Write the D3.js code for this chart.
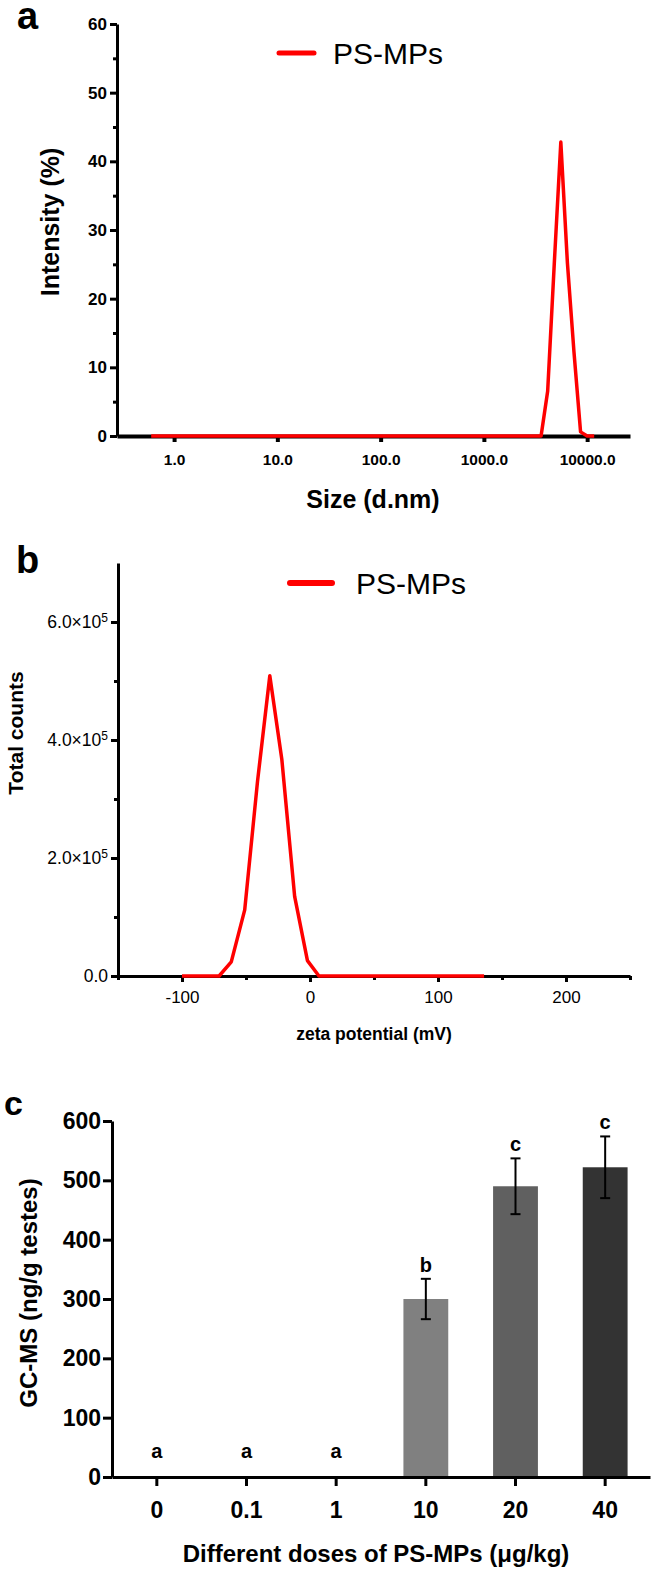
<!DOCTYPE html>
<html>
<head>
<meta charset="utf-8">
<script src="https://cdn.jsdelivr.net/npm/d3@7"></script>
<style>
  body { margin: 0; background: #fff; }
  svg { display: block; font-family: "Liberation Sans", Arial, sans-serif; }
  .ax path, .ax line { stroke: #000; }
</style>
</head>
<body>
<svg id="fig" width="654" height="1575"></svg>
<script>
// ---- panel a : size distribution (DLS) ----
var sizeNm = [0.6, 3090, 3580, 4145, 4801, 5560, 6439, 7456, 8635, 10000, 11700];
var sizeIntensity = [0, 0, 0, 6.5, 25, 42.8, 25.2, 12.2, 0.6, 0, 0];
var sizeTicks = [1, 10, 100, 1000, 10000];
var intensityTicks = [0, 10, 20, 30, 40, 50, 60];

// ---- panel b : zeta potential ----
var zetaMv = [-100, -71, -61.5, -51, -41, -31.4, -22, -12, -2, 7, 136];
var zetaCounts = [0, 0, 24000, 112000, 330000, 509000, 367000, 135000, 26000, 0, 0];
var zetaTicks = [-100, 0, 100, 200];
var countTicks = [0, 200000, 400000, 600000];

// ---- panel c : GC-MS ----
var doses = ["0", "0.1", "1", "10", "20", "40"];
var gcms = [0, 0, 0, 300, 490, 522];
var gcmsErr = [0, 0, 0, 34, 47, 52];
var sigLetters = ["a", "a", "a", "b", "c", "c"];
var gcmsTicks = [0, 100, 200, 300, 400, 500, 600];

var svg = d3.select("#fig");
var red = "#ff0000";

function styleAxis(g, w) {
  g.attr("class", "ax");
  g.select(".domain").attr("stroke-width", w);
  g.selectAll(".tick line").attr("stroke-width", w);
}

// =================== panel a ===================
var xA = d3.scaleLog().domain([0.28, 26000]).range([117, 630]);
var yA = d3.scaleLinear().domain([0, 60]).range([436, 24]);

svg.append("text").attr("x", 17).attr("y", 29)
  .attr("font-size", 38).attr("font-weight", "bold").text("a");

var gA = svg.append("g");
gA.append("g").attr("transform", "translate(117,0)")
  .call(d3.axisLeft(yA).tickValues(d3.range(5, 60, 10)).tickSize(4).tickFormat(""))
  .call(function(g) { g.select(".domain").remove(); styleAxis(g, 3); });
gA.append("g").attr("transform", "translate(117,0)")
  .call(d3.axisLeft(yA).tickValues(intensityTicks).tickSize(7).tickPadding(3).tickSizeOuter(0))
  .call(function(g) { styleAxis(g, 3); })
  .selectAll("text").attr("font-size", 17).attr("font-weight", "bold").attr("fill", "#000")
  .attr("font-family", "Liberation Sans, Arial, sans-serif");
gA.append("g").attr("transform", "translate(0,436)")
  .call(d3.axisBottom(xA).tickValues(sizeTicks).tickFormat(d3.format(".1f")).tickSize(6).tickPadding(12).tickSizeOuter(0))
  .call(function(g) { styleAxis(g, 4); })
  .selectAll("text").attr("font-size", 15.5).attr("font-weight", "bold").attr("fill", "#000")
  .attr("font-family", "Liberation Sans, Arial, sans-serif");

var lineA = d3.line().x(function(d, i) { return xA(sizeNm[i]); }).y(function(d) { return yA(d); });
gA.append("path").datum(sizeIntensity).attr("d", lineA)
  .attr("fill", "none").attr("stroke", red).attr("stroke-width", 3.5).attr("stroke-linejoin", "round");

gA.append("text").attr("transform", "translate(59,222) rotate(-90)")
  .attr("text-anchor", "middle").attr("font-size", 25).attr("font-weight", "bold").text("Intensity (%)");
gA.append("text").attr("x", 373).attr("y", 508)
  .attr("text-anchor", "middle").attr("font-size", 25).attr("font-weight", "bold").text("Size (d.nm)");

gA.append("line").attr("x1", 279).attr("x2", 314).attr("y1", 53).attr("y2", 53)
  .attr("stroke", red).attr("stroke-width", 5).attr("stroke-linecap", "round");
gA.append("text").attr("x", 333).attr("y", 64).attr("font-size", 30).text("PS-MPs");

// =================== panel b ===================
var xB = d3.scaleLinear().domain([-150, 250]).range([118, 630]);
var yB = d3.scaleLinear().domain([0, 700000]).range([976, 563]);

svg.append("text").attr("x", 16).attr("y", 573)
  .attr("font-size", 38).attr("font-weight", "bold").text("b");

var gB = svg.append("g");
gB.append("g").attr("transform", "translate(118,0)")
  .call(d3.axisLeft(yB).tickValues([100000, 300000, 500000]).tickSize(4).tickFormat(""))
  .call(function(g) { g.select(".domain").remove(); styleAxis(g, 3); });
var yAxB = gB.append("g").attr("transform", "translate(118,0)")
  .call(d3.axisLeft(yB).tickValues(countTicks).tickSize(7).tickPadding(3).tickSizeOuter(0))
  .call(function(g) { styleAxis(g, 3); });
yAxB.selectAll(".tick text").each(function(d) {
  var t = d3.select(this).text("").attr("font-size", 17.5).attr("fill", "#000")
    .attr("font-family", "Liberation Sans, Arial, sans-serif");
  if (d === 0) { t.text("0.0"); return; }
  var e = Math.floor(Math.log10(d));
  t.append("tspan").text((d / Math.pow(10, e)).toFixed(1) + "\u00d710");
  t.append("tspan").attr("dy", "-0.5em").attr("font-size", 12).text(e);
});

gB.append("g").attr("transform", "translate(0,976)")
  .call(d3.axisBottom(xB).tickValues([-150, -50, 50, 150, 250]).tickSize(4).tickFormat(""))
  .call(function(g) { g.select(".domain").remove(); styleAxis(g, 3); });
gB.append("g").attr("transform", "translate(0,976)")
  .call(d3.axisBottom(xB).tickValues(zetaTicks).tickFormat(function(d) { return String(d); })
    .tickSize(6).tickPadding(9).tickSizeOuter(0))
  .call(function(g) { styleAxis(g, 3); })
  .selectAll("text").attr("font-size", 17).attr("fill", "#000")
  .attr("font-family", "Liberation Sans, Arial, sans-serif");

var lineB = d3.line().x(function(d, i) { return xB(zetaMv[i]); }).y(function(d) { return yB(d); });
gB.append("path").datum(zetaCounts).attr("d", lineB)
  .attr("fill", "none").attr("stroke", red).attr("stroke-width", 3.5).attr("stroke-linejoin", "round");

gB.append("text").attr("transform", "translate(23,733) rotate(-90)")
  .attr("text-anchor", "middle").attr("font-size", 21).attr("font-weight", "bold").text("Total counts");
gB.append("text").attr("x", 374).attr("y", 1040)
  .attr("text-anchor", "middle").attr("font-size", 17.5).attr("font-weight", "bold").text("zeta potential (mV)");

gB.append("line").attr("x1", 290).attr("x2", 332).attr("y1", 583).attr("y2", 583)
  .attr("stroke", red).attr("stroke-width", 6).attr("stroke-linecap", "round");
gB.append("text").attr("x", 356).attr("y", 594).attr("font-size", 30).text("PS-MPs");

// =================== panel c ===================
var xC = d3.scaleBand().domain(doses).range([112, 650]).paddingInner(0.5).paddingOuter(0.25);
var yC = d3.scaleLinear().domain([0, 600]).range([1477, 1121]);
var greys = d3.scaleOrdinal().domain(doses).range(["#808080", "#808080", "#808080", "#808080", "#606060", "#333333"]);

svg.append("text").attr("x", 4).attr("y", 1115)
  .attr("font-size", 34).attr("font-weight", "bold").text("c");

var gC = svg.append("g");
gC.selectAll("rect.bar").data(doses).enter().append("rect")
  .attr("class", "bar")
  .attr("x", function(d) { return xC(d); })
  .attr("width", xC.bandwidth())
  .attr("y", function(d, i) { return yC(gcms[i]); })
  .attr("height", function(d, i) { return yC(0) - yC(gcms[i]); })
  .attr("fill", function(d) { return greys(d); });

var errs = gC.selectAll("g.err").data(doses.filter(function(d, i) { return gcmsErr[i] > 0; }))
  .enter().append("g").attr("class", "err");
errs.each(function(d) {
  var i = doses.indexOf(d), cx = xC(d) + xC.bandwidth() / 2, g = d3.select(this);
  var lo = yC(gcms[i] - gcmsErr[i]), hi = yC(gcms[i] + gcmsErr[i]);
  g.append("line").attr("x1", cx).attr("x2", cx).attr("y1", lo).attr("y2", hi);
  g.append("line").attr("x1", cx - 5).attr("x2", cx + 5).attr("y1", lo).attr("y2", lo);
  g.append("line").attr("x1", cx - 5).attr("x2", cx + 5).attr("y1", hi).attr("y2", hi);
});
errs.selectAll("line").attr("stroke", "#000").attr("stroke-width", 2);

gC.selectAll("text.sig").data(doses).enter().append("text")
  .attr("class", "sig")
  .attr("x", function(d) { return xC(d) + xC.bandwidth() / 2; })
  .attr("y", function(d, i) { return Math.min(yC(gcms[i] + gcmsErr[i]) - 7, yC(0) - 19); })
  .attr("text-anchor", "middle").attr("font-size", 20).attr("font-weight", "bold")
  .text(function(d, i) { return sigLetters[i]; });

gC.append("g").attr("transform", "translate(112,0)")
  .call(d3.axisLeft(yC).tickValues(gcmsTicks).tickSize(9).tickPadding(2).tickSizeOuter(0))
  .call(function(g) { styleAxis(g, 3); })
  .selectAll("text").attr("font-size", 23).attr("font-weight", "bold").attr("fill", "#000")
  .attr("font-family", "Liberation Sans, Arial, sans-serif");
gC.append("g").attr("transform", "translate(0,1477)")
  .call(d3.axisBottom(xC).tickSize(9).tickPadding(16).tickSizeOuter(0))
  .call(function(g) { styleAxis(g, 3); })
  .selectAll("text").attr("font-size", 23).attr("font-weight", "bold").attr("fill", "#000")
  .attr("font-family", "Liberation Sans, Arial, sans-serif");

gC.append("text").attr("transform", "translate(37,1293) rotate(-90)")
  .attr("text-anchor", "middle").attr("font-size", 24).attr("font-weight", "bold").text("GC-MS (ng/g testes)");
gC.append("text").attr("x", 376).attr("y", 1562)
  .attr("text-anchor", "middle").attr("font-size", 24).attr("font-weight", "bold").text("Different doses of PS-MPs (\u03bcg/kg)");
</script>
</body>
</html>
